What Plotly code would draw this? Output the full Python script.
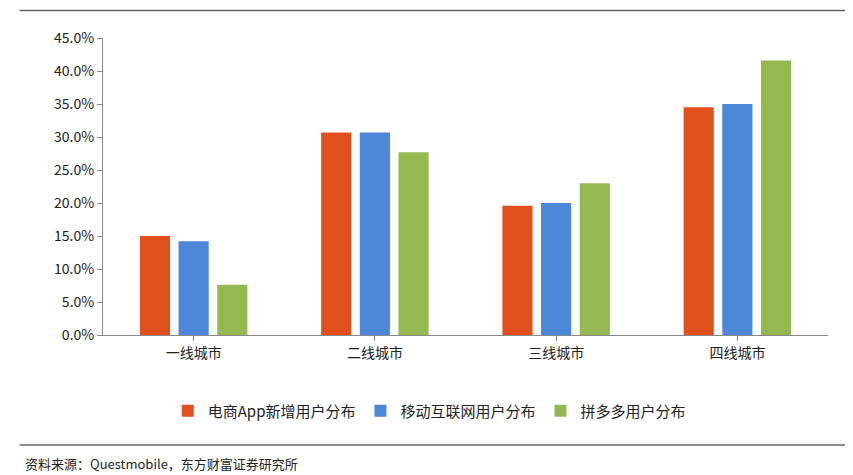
import plotly.graph_objects as go

categories = ["一线城市", "二线城市", "三线城市", "四线城市"]
series_names = ["电商App新增用户分布", "移动互联网用户分布", "拼多多用户分布"]
ecommerce = [15.0, 30.7, 19.6, 34.5]
mobile = [14.2, 30.7, 20.0, 35.0]
pdd = [7.6, 27.7, 23.0, 41.6]
colors = ["#E14F1C", "#4C87D9", "#93B950"]
yticks = [0, 5, 10, 15, 20, 25, 30, 35, 40, 45]

font = "Noto Sans CJK SC"
fig = go.Figure()
for name, vals, c in zip(series_names, [ecommerce, mobile, pdd], colors):
    fig.add_bar(x=categories, y=vals, name=name, marker_color=c, marker_line_width=0)

fig.update_layout(
    width=853, height=475,
    margin=dict(l=95, r=33, t=30, b=148, autoexpand=False),
    plot_bgcolor="white", paper_bgcolor="white",
    barmode="group", bargap=0.36, bargroupgap=0.22,
    font=dict(family=font, size=13, color="#222"),
    showlegend=True,
    legend=dict(orientation="h", x=0.45, xanchor="center", y=-0.2, yanchor="top",
                font=dict(size=15), itemwidth=30),
    xaxis=dict(showline=True, linecolor="#888", ticks="outside", tickcolor="#888",
               tickfont=dict(size=14), showgrid=False),
    yaxis=dict(range=[0, 45], tickvals=yticks, ticktext=[f"{v:.1f}%" for v in yticks],
               showline=True, linecolor="#888", ticks="outside", tickcolor="#888",
               showgrid=False, tickfont=dict(size=14)),
    shapes=[
        dict(type="line", xref="paper", yref="paper", x0=-0.115, x1=1.04, y0=1.093, y1=1.093,
             line=dict(color="#666", width=1.5)),
        dict(type="line", xref="paper", yref="paper", x0=-0.115, x1=1.04, y0=-0.37, y1=-0.37,
             line=dict(color="#666", width=1.5)),
    ],
    annotations=[dict(text="资料来源：Questmobile，东方财富证券研究所", xref="paper", yref="paper",
                      x=-0.11, y=-0.395, xanchor="left", yanchor="top", showarrow=False,
                      font=dict(size=13, color="#222"))],
)
fig.write_html("out.html")
